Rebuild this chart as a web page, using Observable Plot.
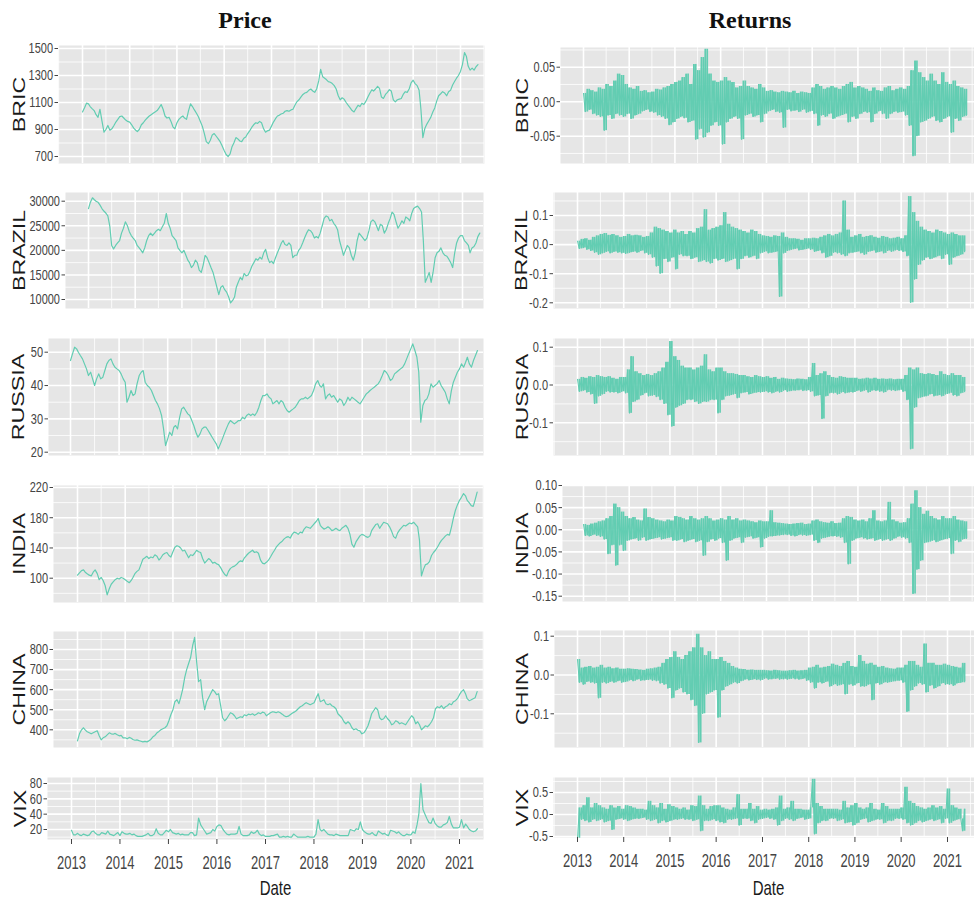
<!DOCTYPE html>
<html><head><meta charset="utf-8">
<script src="https://cdn.jsdelivr.net/npm/d3@7"></script>
<script src="https://cdn.jsdelivr.net/npm/@observablehq/plot@0.6"></script>
<style>
html,body{margin:0;padding:0;background:#fff;}
#fig{position:relative;width:974px;height:899px;overflow:hidden;font-family:"Liberation Sans",Arial,sans-serif;}
</style></head><body><div id="fig"></div>
<script>
// ---------- DATA (semi-monthly readings: 1st and 16th of each month, one row per year 2013..2021) ----------
const years = [2013, 2014, 2015, 2016, 2017, 2018, 2019, 2020, 2021];
const columnTitles = ["Price", "Returns"];
const seriesNames = ["BRIC", "BRAZIL", "RUSSIA", "INDIA", "CHINA", "VIX"];

const bricPrice = [
[1030,1060,1095,1090,1070,1055,1040,1010,990,1050,960,880,900,930,895,905,930,955,975,995,1000,985,970,960],
[955,935,910,895,885,900,935,950,970,985,1000,1010,1020,1030,1040,1060,1085,1050,1000,985,990,960,920,905],
[950,975,990,1000,985,975,1040,1090,1070,1045,1020,995,960,925,870,810,795,820,860,870,850,830,810,780],
[745,715,700,720,770,800,840,830,815,810,835,845,870,890,915,935,950,945,960,950,905,880,890,895],
[925,955,980,1000,1005,1015,1020,1035,1040,1035,1045,1050,1080,1105,1120,1140,1160,1170,1175,1190,1200,1185,1175,1200],
[1260,1345,1290,1280,1270,1255,1250,1240,1225,1200,1150,1120,1135,1125,1100,1080,1060,1040,1030,1055,1080,1070,1095,1085],
[1110,1140,1170,1195,1185,1200,1220,1205,1140,1130,1160,1175,1195,1185,1120,1105,1120,1125,1130,1160,1180,1175,1200,1245],
[1265,1240,1225,1190,1050,840,910,940,965,990,1030,1060,1110,1150,1165,1180,1170,1150,1180,1190,1230,1255,1280,1300],
[1330,1380,1470,1440,1370,1340,1355,1340,1365,1380]];

const brazilPrice = [
[28500,29800,30700,30300,30000,29800,29200,28500,28000,27600,27000,25000,21000,20300,21000,21500,22000,23500,24500,25800,25000,23800,23000,22500],
[22000,21000,20500,20000,19500,20500,22000,23000,23500,23000,23500,24000,24300,24000,24800,25500,27500,25500,24500,23000,22500,22000,20500,20000],
[19500,20000,19000,18000,17500,16500,17000,18000,17500,16000,15500,17000,19000,18500,17500,16500,15500,14000,12500,11000,12500,12800,12000,11500],
[10500,9300,9800,10500,12500,13500,14500,14000,15300,14800,15000,15800,16800,17500,18300,18000,18600,18200,19500,20200,18500,17500,17800,17300],
[18500,19500,20500,21500,22000,21200,21000,21500,21000,18500,19000,19000,20000,20500,21500,22500,23500,24200,24000,23500,22500,22800,22500,23500],
[25000,26500,27000,26800,26000,26300,25500,25000,24200,22000,20500,19000,20000,21000,20500,19000,18000,19500,22000,23500,23000,22500,22000,22500],
[24000,25800,26200,25800,25000,24000,25300,25000,23500,24200,25500,26500,27800,27300,25800,24500,25200,26000,25500,26800,26500,26000,27500,28500],
[28800,29000,28500,27800,22000,13500,14500,15500,13500,15500,18500,19500,19800,20500,19500,19000,18800,18200,17500,16500,19500,21500,22500,23000],
[23000,22000,21500,21000,19500,20500,20800,21500,22800,23500]];

const russiaPrice = [
[47.5,49.5,51.5,51,50,49,48,46.5,45,43,44,42,40,42,43.5,42,42.5,44.5,46.5,47.5,48,46.5,45.5,45],
[44.5,43.5,42,41,35,36.5,38.5,37,37.5,40.5,43,44,44.5,41,40,39.5,38.5,37,35.5,34.5,33,31,27,22],
[24,26,25,27.5,28,27,30.5,33,33.5,32.5,31.5,31,29.5,28,26,24.5,25.5,27,27.5,27.5,26.5,25.5,24.5,23.5],
[22.5,21,22.5,24,25.5,27,28.5,29.5,29,28.5,29,29.5,29.5,30.5,30,31,31.5,31,31.5,31,32,33.5,35.5,37],
[37,37.5,36.5,36,34.5,35,35.5,34.5,35.5,35,33.5,32.5,32,32.5,33,33.5,34.5,35.5,36,36,36.5,36,36.5,37],
[38.5,40.5,41.5,40,39.5,40.5,36,37,37.5,36.5,37,36,35,36,35.5,34,35,36.5,35.5,36.5,36,35.5,35,34.5],
[35.5,36.5,37.5,38,38.5,39,39.5,40,40.5,41.5,43,44.5,44,43,41.5,42,43.5,44,44.5,45,45.5,46.5,48,49.5],
[51,52.5,50.5,48.5,44,29,34,35.5,36,37.5,40.5,39.5,40,40.5,41.5,40,39,38,36,34.5,38.5,41,42.5,44],
[45,46.5,45.5,47,48.5,46.5,45.5,47.5,49,50.5]];

const indiaPrice = [
[104,107,110,111,108,106,104,103,108,111,106,98,101,97,90,78,86,92,95,98,100,99,101,100],
[98,96,94,97,101,106,109,111,118,125,127,129,126,128,127,131,129,124,127,131,133,134,130,128],
[135,141,143,142,140,136,137,132,127,131,130,133,137,135,134,126,120,123,126,124,120,121,119,118],
[114,109,105,103,109,113,115,116,118,121,123,122,127,130,133,135,137,134,135,133,124,120,119,121],
[124,128,133,137,141,144,147,149,152,154,155,153,158,161,160,158,161,160,165,168,167,166,169,172],
[175,179,170,167,165,166,168,166,163,164,166,164,163,166,168,170,166,158,145,141,148,152,156,158],
[157,155,154,156,163,167,171,172,166,170,174,173,172,168,162,155,153,160,164,167,170,169,171,173],
[172,174,171,168,150,103,112,118,119,122,130,134,137,141,146,150,153,156,158,157,168,180,190,197],
[203,207,212,209,203,200,196,195,204,214]];

const chinaPrice = [
[345,380,400,410,400,390,385,380,385,390,395,370,350,360,365,375,385,380,378,382,375,370,372,360],
[360,355,362,358,352,348,350,346,343,340,342,340,345,352,365,372,385,392,400,405,410,420,445,475],
[500,540,550,530,560,600,660,700,730,760,820,860,740,640,650,560,500,540,560,580,600,590,575,580],
[520,460,445,455,470,485,480,470,455,460,465,462,475,470,478,475,480,472,478,485,480,488,485,470],
[478,485,490,488,485,490,485,478,470,465,468,475,482,488,495,505,515,520,528,535,530,525,530,535],
[560,580,540,545,550,530,525,530,520,515,505,480,470,460,440,430,440,430,410,400,405,398,395,380],
[385,400,420,450,480,495,510,500,460,450,455,470,455,445,425,430,445,440,430,435,430,425,440,455],
[470,460,430,440,425,400,410,420,415,425,440,460,505,515,510,520,505,515,520,530,525,540,545,555],
[575,590,600,580,555,545,550,555,560,590]];

const vixPrice = [
[19,13,13,15,13,12,14,13,12,13,17,18,15,13,13,16,15,14,18,14,13,12,14,16],
[12,17,15,14,14,15,13,14,12,11,11,11,12,13,15,12,12,14,21,15,13,13,16,19],
[17,20,16,15,14,15,13,14,13,13,13,16,16,12,13,35,26,22,18,14,15,16,20,18],
[24,26,25,20,17,14,13,14,14,14,15,24,14,12,12,12,13,17,15,16,19,14,12,13],
[11,11,11,12,12,13,14,10,10,11,10,11,10,10,14,12,10,10,10,10,10,11,10,10],
[10,14,33,20,18,20,17,14,13,13,12,14,13,12,12,12,12,12,20,19,18,21,20,30],
[20,17,15,14,14,16,13,12,18,16,14,15,13,12,19,18,17,15,17,14,12,12,14,13],
[13,17,15,26,40,80,46,40,34,29,28,35,28,25,23,23,26,27,29,37,27,22,22,22],
[23,33,22,27,24,20,18,17,18,21]];

const bricRet = [
[0.012,-0.015,0.018,-0.012,0.016,-0.018,0.014,-0.02,0.02,-0.022,0.018,-0.042,0.025,-0.02,0.022,-0.025,0.03,-0.018,0.04,-0.02,0.038,-0.022,0.025,-0.018],
[0.02,-0.025,0.018,-0.02,0.022,-0.018,0.015,-0.014,0.016,-0.012,0.013,-0.015,0.014,-0.016,0.018,-0.02,0.017,-0.022,0.02,-0.025,0.022,-0.034,0.025,-0.03],
[0.028,-0.025,0.03,-0.022,0.035,-0.024,0.04,-0.03,0.025,-0.028,0.054,-0.055,0.045,-0.04,0.064,-0.052,0.076,-0.045,0.04,-0.035,0.03,-0.03,0.028,-0.035],
[0.03,-0.062,0.035,-0.03,0.03,-0.025,0.028,-0.022,0.02,-0.025,0.022,-0.055,0.03,-0.02,0.022,-0.018,0.02,-0.022,0.018,-0.02,0.025,-0.03,0.02,-0.018],
[0.015,-0.014,0.016,-0.012,0.014,-0.015,0.013,-0.016,0.015,-0.038,0.014,-0.012,0.013,-0.014,0.015,-0.013,0.012,-0.015,0.014,-0.012,0.013,-0.016,0.012,-0.014],
[0.02,-0.018,0.025,-0.035,0.022,-0.02,0.018,-0.022,0.02,-0.018,0.022,-0.025,0.02,-0.022,0.018,-0.02,0.022,-0.018,0.025,-0.03,0.028,-0.022,0.02,-0.025],
[0.022,-0.018,0.02,-0.015,0.018,-0.016,0.015,-0.03,0.02,-0.018,0.016,-0.014,0.015,-0.018,0.02,-0.025,0.022,-0.018,0.016,-0.015,0.018,-0.016,0.02,-0.015],
[0.018,-0.02,0.022,-0.035,0.045,-0.079,0.059,-0.05,0.042,-0.03,0.035,-0.028,0.03,-0.025,0.04,-0.022,0.03,-0.028,0.025,-0.03,0.042,-0.025,0.028,-0.022],
[0.025,-0.045,0.03,-0.025,0.022,-0.028,0.02,-0.022,0.018,-0.02]];

const brazilRet = [
[0.012,-0.015,0.018,-0.012,0.02,-0.018,0.015,-0.022,0.025,-0.028,0.03,-0.035,0.035,-0.03,0.038,-0.025,0.032,-0.03,0.035,-0.025,0.03,-0.028,0.025,-0.03],
[0.028,-0.032,0.035,-0.028,0.03,-0.025,0.032,-0.028,0.03,-0.022,0.025,-0.03,0.028,-0.035,0.04,-0.045,0.06,-0.075,0.055,-0.1,0.05,-0.05,0.045,-0.06],
[0.04,-0.045,0.05,-0.085,0.04,-0.035,0.045,-0.04,0.035,-0.04,0.045,-0.05,0.04,-0.045,0.055,-0.06,0.06,-0.055,0.12,-0.06,0.05,-0.065,0.055,-0.05],
[0.06,-0.055,0.065,-0.05,0.11,-0.06,0.07,-0.055,0.06,-0.05,0.055,-0.085,0.05,-0.05,0.045,-0.04,0.04,-0.045,0.05,-0.04,0.045,-0.05,0.035,-0.03],
[0.03,-0.025,0.028,-0.03,0.025,-0.028,0.03,-0.025,0.028,-0.18,0.04,-0.03,0.025,-0.022,0.02,-0.018,0.02,-0.015,0.018,-0.02,0.015,-0.018,0.02,-0.015],
[0.02,-0.018,0.022,-0.025,0.02,-0.022,0.025,-0.03,0.03,-0.045,0.035,-0.04,0.03,-0.028,0.035,-0.03,0.04,-0.035,0.15,-0.04,0.05,-0.03,0.025,-0.028],
[0.03,-0.025,0.035,-0.03,0.025,-0.035,0.028,-0.025,0.03,-0.022,0.025,-0.028,0.022,-0.025,0.028,-0.03,0.025,-0.022,0.02,-0.025,0.022,-0.02,0.025,-0.022],
[0.02,-0.025,0.03,-0.04,0.165,-0.2,0.11,-0.12,0.08,-0.07,0.06,-0.055,0.05,-0.045,0.045,-0.05,0.04,-0.045,0.05,-0.04,0.045,-0.05,0.04,-0.035],
[0.035,-0.07,0.04,-0.045,0.035,-0.04,0.03,-0.035,0.03,-0.025]];

const russiaRet = [
[0.015,-0.018,0.02,-0.015,0.018,-0.02,0.022,-0.025,0.02,-0.05,0.025,-0.03,0.022,-0.025,0.02,-0.018,0.022,-0.02,0.018,-0.02,0.015,-0.022,0.02,-0.018],
[0.02,-0.022,0.04,-0.075,0.075,-0.045,0.035,-0.04,0.03,-0.028,0.025,-0.022,0.028,-0.03,0.025,-0.028,0.03,-0.032,0.035,-0.04,0.045,-0.05,0.06,-0.08],
[0.115,-0.11,0.075,-0.06,0.065,-0.055,0.05,-0.05,0.045,-0.04,0.045,-0.04,0.04,-0.045,0.045,-0.05,0.05,-0.045,0.08,-0.045,0.04,-0.04,0.035,-0.04],
[0.045,-0.075,0.045,-0.04,0.035,-0.03,0.03,-0.028,0.03,-0.025,0.028,-0.035,0.025,-0.022,0.025,-0.02,0.022,-0.025,0.02,-0.022,0.025,-0.02,0.022,-0.02],
[0.02,-0.018,0.022,-0.02,0.018,-0.022,0.02,-0.018,0.015,-0.02,0.018,-0.015,0.016,-0.018,0.015,-0.016,0.014,-0.015,0.016,-0.014,0.015,-0.016,0.014,-0.015],
[0.02,-0.018,0.057,-0.03,0.025,-0.028,0.03,-0.09,0.035,-0.03,0.025,-0.022,0.02,-0.022,0.018,-0.025,0.022,-0.02,0.02,-0.022,0.018,-0.02,0.018,-0.02],
[0.018,-0.016,0.015,-0.018,0.016,-0.015,0.018,-0.02,0.016,-0.015,0.018,-0.016,0.015,-0.018,0.016,-0.02,0.015,-0.014,0.016,-0.015,0.014,-0.016,0.015,-0.014],
[0.015,-0.018,0.025,-0.04,0.045,-0.17,0.04,-0.06,0.045,-0.035,0.03,-0.032,0.028,-0.03,0.03,-0.025,0.028,-0.03,0.025,-0.028,0.035,-0.03,0.028,-0.025],
[0.025,-0.022,0.03,-0.028,0.025,-0.03,0.025,-0.022,0.02,-0.018]];

const indiaRet = [
[0.012,-0.014,0.01,-0.015,0.013,-0.012,0.015,-0.014,0.018,-0.016,0.02,-0.022,0.025,-0.055,0.03,-0.035,0.058,-0.081,0.05,-0.035,0.04,-0.048,0.03,-0.025],
[0.025,-0.022,0.028,-0.02,0.022,-0.025,0.02,-0.018,0.047,-0.025,0.028,-0.022,0.025,-0.02,0.022,-0.018,0.02,-0.022,0.018,-0.02,0.022,-0.018,0.02,-0.025],
[0.03,-0.025,0.028,-0.022,0.025,-0.028,0.022,-0.025,0.03,-0.022,0.025,-0.028,0.022,-0.025,0.025,-0.059,0.03,-0.028,0.025,-0.022,0.02,-0.025,0.022,-0.02],
[0.025,-0.03,0.022,-0.07,0.03,-0.025,0.022,-0.02,0.025,-0.018,0.02,-0.03,0.022,-0.018,0.02,-0.016,0.018,-0.02,0.016,-0.018,0.02,-0.04,0.018,-0.02],
[0.018,-0.016,0.043,-0.015,0.016,-0.014,0.015,-0.013,0.014,-0.012,0.013,-0.012,0.012,-0.014,0.013,-0.015,0.014,-0.012,0.015,-0.013,0.012,-0.014,0.013,-0.012],
[0.02,-0.025,0.022,-0.03,0.018,-0.02,0.016,-0.018,0.015,-0.016,0.018,-0.015,0.014,-0.016,0.015,-0.018,0.025,-0.03,0.03,-0.078,0.028,-0.025,0.022,-0.02],
[0.02,-0.018,0.022,-0.02,0.018,-0.022,0.025,-0.02,0.043,-0.025,0.02,-0.022,0.018,-0.025,0.02,-0.022,0.062,-0.025,0.022,-0.02,0.018,-0.016,0.015,-0.018],
[0.016,-0.02,0.025,-0.03,0.058,-0.145,0.088,-0.09,0.05,-0.07,0.035,-0.03,0.042,-0.028,0.03,-0.025,0.025,-0.028,0.022,-0.025,0.03,-0.022,0.025,-0.02],
[0.025,-0.055,0.03,-0.025,0.022,-0.028,0.02,-0.022,0.018,-0.02]];

const chinaRet = [
[0.04,-0.02,0.018,-0.025,0.02,-0.018,0.022,-0.02,0.018,-0.022,0.02,-0.06,0.025,-0.02,0.018,-0.022,0.02,-0.018,0.016,-0.02,0.018,-0.016,0.015,-0.02],
[0.015,-0.018,0.016,-0.014,0.015,-0.016,0.014,-0.012,0.013,-0.015,0.012,-0.014,0.015,-0.013,0.016,-0.015,0.018,-0.016,0.02,-0.022,0.03,-0.025,0.04,-0.035],
[0.045,-0.06,0.06,-0.04,0.045,-0.035,0.04,-0.045,0.05,-0.05,0.06,-0.065,0.07,-0.08,0.105,-0.175,0.07,-0.1,0.05,-0.05,0.06,-0.045,0.04,-0.04],
[0.04,-0.11,0.045,-0.04,0.035,-0.03,0.03,-0.025,0.022,-0.02,0.018,-0.022,0.015,-0.016,0.014,-0.012,0.012,-0.014,0.013,-0.012,0.012,-0.013,0.012,-0.014],
[0.012,-0.01,0.011,-0.012,0.01,-0.011,0.012,-0.01,0.011,-0.012,0.01,-0.011,0.01,-0.012,0.011,-0.01,0.012,-0.011,0.01,-0.012,0.011,-0.01,0.012,-0.015],
[0.018,-0.02,0.02,-0.035,0.025,-0.02,0.018,-0.022,0.02,-0.018,0.022,-0.03,0.028,-0.025,0.025,-0.028,0.022,-0.025,0.03,-0.05,0.035,-0.025,0.022,-0.028],
[0.02,-0.022,0.05,-0.03,0.035,-0.03,0.028,-0.025,0.03,-0.065,0.025,-0.022,0.02,-0.025,0.022,-0.02,0.018,-0.02,0.016,-0.018,0.015,-0.016,0.018,-0.015],
[0.018,-0.02,0.025,-0.095,0.035,-0.04,0.035,-0.03,0.025,-0.022,0.02,-0.025,0.08,-0.045,0.03,-0.028,0.03,-0.035,0.025,-0.03,0.025,-0.022,0.028,-0.025],
[0.025,-0.025,0.022,-0.028,0.02,-0.022,0.018,-0.02,0.03,-0.018]];

const vixRet = [
[-0.54,0.15,-0.12,0.2,-0.15,0.38,-0.18,0.15,-0.12,0.25,-0.15,0.2,-0.12,0.15,-0.18,0.12,-0.15,0.2,-0.35,0.15,-0.12,0.18,-0.1,0.12],
[-0.12,0.2,-0.15,0.18,-0.12,0.15,-0.1,0.12,-0.1,0.12,-0.08,0.1,-0.12,0.3,-0.15,0.2,-0.12,0.15,-0.2,0.25,-0.15,0.12,-0.18,0.22],
[-0.15,0.18,-0.12,0.15,-0.12,0.12,-0.1,0.15,-0.12,0.1,-0.12,0.2,-0.15,0.18,-0.12,0.42,-0.38,0.2,-0.15,0.12,-0.15,0.18,-0.12,0.2],
[-0.15,0.2,-0.18,0.15,-0.2,0.12,-0.12,0.1,-0.12,0.15,-0.1,0.45,-0.25,0.12,-0.1,0.12,-0.1,0.25,-0.15,0.12,-0.2,0.18,-0.12,0.1],
[-0.1,0.12,-0.08,0.1,-0.1,0.12,-0.12,0.15,-0.25,0.42,-0.15,0.12,-0.1,0.15,-0.12,0.3,-0.15,0.12,-0.1,0.12,-0.08,0.1,-0.12,0.1],
[-0.1,0.15,0.8,-0.45,0.25,-0.2,0.18,-0.15,0.12,-0.15,0.12,-0.1,0.12,-0.1,0.12,-0.15,0.1,-0.12,0.3,-0.2,0.15,-0.18,0.2,-0.25],
[0.25,-0.2,0.15,-0.12,0.12,-0.1,0.15,-0.18,0.25,-0.15,0.12,-0.12,0.1,-0.12,0.25,-0.2,0.18,-0.15,0.12,-0.15,0.12,-0.1,0.12,-0.1],
[0.15,-0.12,0.62,-0.2,0.3,-0.25,0.25,-0.2,0.18,-0.15,0.15,-0.18,0.12,-0.15,0.15,-0.12,0.2,-0.15,0.15,-0.12,0.18,-0.2,0.12,-0.1],
[0.58,-0.2,0.2,-0.15,0.15,-0.12,0.12,-0.1,-0.38,0.12]];

// tick values
const bricPriceTicks = [700, 900, 1100, 1300, 1500];
const brazilPriceTicks = [10000, 15000, 20000, 25000, 30000];
const russiaPriceTicks = [20, 30, 40, 50];
const indiaPriceTicks = [100, 140, 180, 220];
const chinaPriceTicks = [400, 500, 600, 700, 800];
const vixPriceTicks = [20, 40, 60, 80];
const bricRetTicks = [-0.05, 0, 0.05];
const brazilRetTicks = [-0.2, -0.1, 0, 0.1];
const russiaRetTicks = [-0.1, 0, 0.1];
const indiaRetTicks = [-0.15, -0.10, -0.05, 0, 0.05, 0.10];
const chinaRetTicks = [-0.1, 0, 0.1];
const vixRetTicks = [-0.5, 0, 0.5];

// ---------- LAYOUT ----------
const S = 1.38;               // vertical stretch of the original figure
const lineColor = "#62CDB2";
const bgColor = "#E6E6E6";
const fint = d => String(d);
const f1 = d => d.toFixed(1);
const f2 = d => d.toFixed(2);

const panels = [
  {series: bricPrice,   label: seriesNames[0], bg: [58, 45, 484, 163],  xa: [82, 460],  ya: [[1500, 48], [700, 156]],       ticks: bricPriceTicks,   fmt: fint, lx: 19},
  {series: brazilPrice, label: seriesNames[1], bg: [65, 192, 483, 308], xa: [88, 462],  ya: [[30000, 200.7], [10000, 299]], ticks: brazilPriceTicks, fmt: fint, lx: 19},
  {series: russiaPrice, label: seriesNames[2], bg: [48, 338, 483, 455], xa: [70, 459],  ya: [[50, 351.7], [20, 451.7]],     ticks: russiaPriceTicks, fmt: fint, lx: 18},
  {series: indiaPrice,  label: seriesNames[3], bg: [53, 485, 483, 602], xa: [77, 459],  ya: [[220, 487], [100, 577.7]],     ticks: indiaPriceTicks,  fmt: fint, lx: 19},
  {series: chinaPrice,  label: seriesNames[4], bg: [53, 631, 483, 747], xa: [77, 459],  ya: [[800, 649], [400, 729.3]],     ticks: chinaPriceTicks,  fmt: fint, lx: 19},
  {series: vixPrice,    label: seriesNames[5], bg: [47, 777, 483, 839], xa: [71, 459],  ya: [[80, 783], [20, 829]],         ticks: vixPriceTicks,    fmt: fint, lx: 20, xAxis: true, dateX: 275},
  {series: bricRet,     label: seriesNames[0], bg: [560, 47, 974, 163],  xa: [583, 949], ya: [[0.05, 66.7], [-0.05, 135.7]], ticks: bricRetTicks,   fmt: f2, lx: 522, ret: true},
  {series: brazilRet,   label: seriesNames[1], bg: [553, 192, 974, 308], xa: [577, 947], ya: [[0.1, 215], [-0.2, 302.3]],    ticks: brazilRetTicks, fmt: f1, lx: 521, ret: true},
  {series: russiaRet,   label: seriesNames[2], bg: [553, 338, 974, 455], xa: [577, 947], ya: [[0.1, 346.7], [-0.1, 422.3]],  ticks: russiaRetTicks, fmt: f1, lx: 522, ret: true},
  {series: indiaRet,    label: seriesNames[3], bg: [562, 485, 974, 601], xa: [583, 949], ya: [[0.10, 485], [-0.15, 595.7]],  ticks: indiaRetTicks,  fmt: f2, lx: 522, ret: true},
  {series: chinaRet,    label: seriesNames[4], bg: [554, 630, 974, 747], xa: [577, 947], ya: [[0.1, 635.7], [-0.1, 713.3]],  ticks: chinaRetTicks,  fmt: f1, lx: 522, ret: true},
  {series: vixRet,      label: seriesNames[5], bg: [553, 777, 974, 837], xa: [577, 947], ya: [[0.5, 792], [-0.5, 836]],      ticks: vixRetTicks,    fmt: f1, lx: 522, ret: true, xAxis: true, dateX: 768}
];
const titleLayout = [{x: 245, y: 28}, {x: 750, y: 28}];

// ---------- HELPERS ----------
function semiMonthly(rows) {
  const out = [];
  rows.forEach((row, r) => row.forEach((v, j) =>
    out.push({date: new Date(Date.UTC(years[0] + r, Math.floor(j / 2), j % 2 ? 16 : 1)), value: v})));
  return out;
}
// vertical span swept between each reading and the previous one
function spans(data) {
  return data.map((d, i) => {
    const prev = i ? data[i - 1].value : d.value;
    return {date: d.date, lo: Math.min(prev, d.value), hi: Math.max(prev, d.value)};
  });
}
function yearDate(y) { return new Date(Date.UTC(2013, 0, 1) + (y - 2013) * 365.25 * 864e5); }
function minorTicks(ticks, lo, hi) {
  const t = ticks.slice().sort((a, b) => a - b), step = t[1] - t[0], m = [];
  for (let i = -1; i < t.length; i++) { const v = t[0] + (i + 0.5) * step; if (v >= lo && v <= hi) m.push(v); }
  return m;
}
function stretchText(svg) {
  svg.querySelectorAll("text").forEach(t => {
    const tr = t.getAttribute("transform");
    if (tr) t.setAttribute("transform", tr + (tr.includes("rotate") ? ` scale(${S},1)` : ` scale(1,${S})`));
    else {
      const x = parseFloat(t.getAttribute("x") || 0), yA = t.getAttribute("y") || "0";
      if (/em$/.test(yA)) { t.setAttribute("transform", `translate(${x},0) scale(1,${S})`); }
      else { t.setAttribute("transform", `translate(${x},${parseFloat(yA)}) scale(1,${S})`); t.removeAttribute("y"); }
      t.removeAttribute("x");
    }
  });
}

const fig = document.getElementById("fig");

function panel(p) {
  const [L, T, R, B] = p.bg;
  const ml = 80, mr = 0, mt = 2, mb = p.xAxis ? 70 : 2;
  const ppy = (p.xa[1] - p.xa[0]) / 8;
  const x0 = yearDate(2013 + (L - p.xa[0]) / ppy), x1 = yearDate(2013 + (R - p.xa[0]) / ppy);
  const [[v1, p1], [v2, p2]] = p.ya;
  const k = (v2 - v1) / (p2 - p1);
  const vTop = v1 + (T - p1) * k, vBot = v1 + (B - p1) * k;
  const majX = years.map(y => new Date(Date.UTC(y, 0, 1))).filter(d => d >= x0 && d <= x1);
  const minX = d3.range(2012, 2022).map(y => new Date(Date.UTC(y, 6, 1))).filter(d => d >= x0 && d <= x1);
  const minY = minorTicks(p.ticks, vBot, vTop);
  const data = semiMonthly(p.series);
  const marks = [
    Plot.frame({fill: bgColor, stroke: "none"}),
    Plot.gridY(minY, {stroke: "#fff", strokeOpacity: 1, strokeWidth: 0.8}),
    Plot.gridX(minX, {stroke: "#fff", strokeOpacity: 1, strokeWidth: 0.8}),
    Plot.gridY(p.ticks, {stroke: "#fff", strokeOpacity: 1, strokeWidth: 1.6}),
    Plot.gridX(majX, {stroke: "#fff", strokeOpacity: 1, strokeWidth: 1.6})
  ];
  if (p.ret) marks.push(Plot.ruleX(spans(data), {x: "date", y1: "lo", y2: "hi", stroke: lineColor, strokeWidth: 1.7}));
  marks.push(
    Plot.line(data, {x: "date", y: "value", stroke: lineColor, strokeWidth: p.ret ? 1 : 1.2}),
    Plot.axisY(p.ticks, {anchor: "left", tickSize: 3.5, tickPadding: 2, fontSize: 11, tickFormat: p.fmt, label: null}),
    Plot.text([p.label], {frameAnchor: "left", textAnchor: "middle", lineAnchor: "middle", dx: p.lx - L, rotate: -90, fontSize: 16.8, fill: "#1a1a1a"})
  );
  if (p.xAxis) {
    marks.push(Plot.axisX(years.map(y => new Date(Date.UTC(y, 0, 1))), {anchor: "bottom", tickSize: 5, tickPadding: 12, fontSize: 13, tickFormat: d3.utcFormat("%Y"), label: null}));
    marks.push(Plot.text(["Date"], {frameAnchor: "bottom", textAnchor: "middle", lineAnchor: "middle", dx: p.dateX - (L + R) / 2, dy: 888 - B, fontSize: 15, fill: "#1a1a1a"}));
  }
  const svg = Plot.plot({
    width: R - L + ml + mr, height: B - T + mt + mb,
    marginLeft: ml, marginRight: mr, marginTop: mt, marginBottom: mb,
    x: {type: "utc", domain: [x0, x1], axis: null},
    y: {domain: [vBot, vTop], axis: null},
    style: {background: "transparent", overflow: "visible", color: "#444444", fontFamily: "'Liberation Sans', Arial, sans-serif"},
    marks
  });
  svg.style.position = "absolute";
  svg.style.left = (L - ml) + "px";
  svg.style.top = (T - mt) + "px";
  stretchText(svg);
  fig.appendChild(svg);
}

panels.forEach(panel);

const titles = d3.select(fig).append("svg")
  .attr("width", 974).attr("height", 40)
  .style("position", "absolute").style("left", "0px").style("top", "0px");
titles.selectAll("text").data(columnTitles).join("text")
  .attr("x", (d, i) => titleLayout[i].x).attr("y", (d, i) => titleLayout[i].y)
  .attr("text-anchor", "middle")
  .attr("font-family", "'Liberation Serif', 'Times New Roman', serif")
  .attr("font-weight", "bold").attr("font-size", 24).attr("fill", "#111")
  .text(d => d);
</script></body></html>
